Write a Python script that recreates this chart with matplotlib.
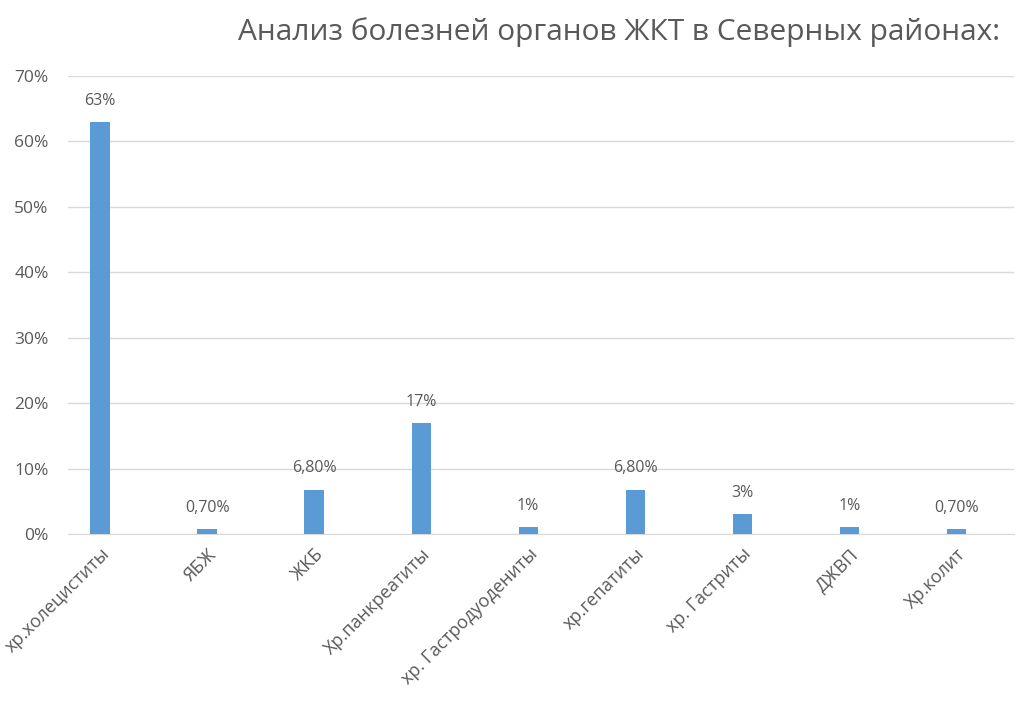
import matplotlib.pyplot as plt
from matplotlib.ticker import FuncFormatter

categories = ["хр.холециститы", "ЯБЖ", "ЖКБ", "Хр.панкреатиты", "хр. Гастродуодениты",
              "хр.гепатиты", "хр. Гастриты", "ДЖВП", "Хр.колит"]
values = [63, 0.7, 6.8, 17, 1, 6.8, 3, 1, 0.7]
value_labels = ["63%", "0,70%", "6,80%", "17%", "1%", "6,80%", "3%", "1%", "0,70%"]

plt.rcParams["font.family"] = ["Open Sans", "DejaVu Sans"]
grey = "#595959"

fig = plt.figure(figsize=(10.28, 7.04), dpi=100)
ax = fig.add_axes([68 / 1028, 1 - 534 / 704, (1014 - 68) / 1028, (534 - 76) / 704])

x = range(len(categories))
ax.bar(x, values, width=0.18, color="#5b9bd5", zorder=3)
for xi, v, lab in zip(x, values, value_labels):
    ax.text(xi, v + 2.0, lab, ha="center", va="bottom", fontsize=11.5, color=grey)

ax.set_xlim(-0.30, 8.54)
ax.set_ylim(0, 70)
ax.set_yticks(range(0, 71, 10))
ax.yaxis.set_major_formatter(FuncFormatter(lambda v, p: f"{v:.0f}%"))
ax.grid(axis="y", color="#d9d9d9", linewidth=1, zorder=0)
for s in ["top", "right", "left"]:
    ax.spines[s].set_visible(False)
ax.spines["bottom"].set_color("#d9d9d9")
ax.tick_params(axis="y", length=0, labelsize=12.5, labelcolor=grey, pad=14)
ax.tick_params(axis="x", length=0, labelsize=13, labelcolor=grey, pad=8)
ax.set_xticks(list(x))
ax.set_xticklabels(categories, rotation=45, ha="right", rotation_mode="anchor")

fig.text(0.602, 0.955, "Анализ болезней органов ЖКТ в Северных районах:",
         ha="center", va="center", fontsize=21.5, color=grey)

fig.savefig("out.png", dpi=100)
